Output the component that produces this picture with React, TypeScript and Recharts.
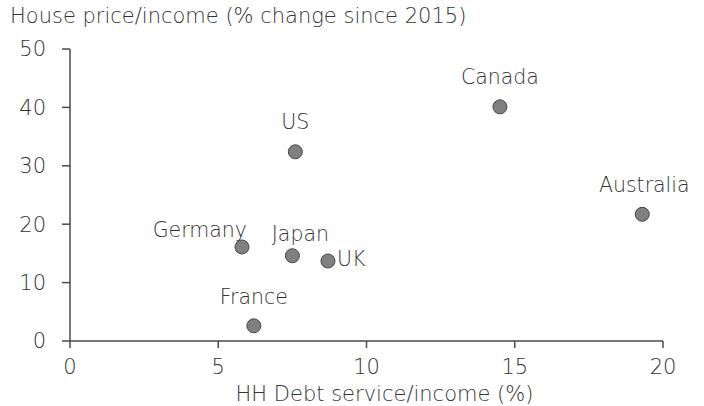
import { ScatterChart, Scatter, XAxis, YAxis } from "recharts";

const countries = ["Canada", "US", "Australia", "Germany", "Japan", "UK", "France"];
const debtService = [14.5, 7.6, 19.3, 5.8, 7.5, 8.7, 6.2];
const housePriceChange = [40.1, 32.4, 21.7, 16.1, 14.6, 13.7, 2.6];
const xTicks = [0, 5, 10, 15, 20];
const yTicks = [0, 10, 20, 30, 40, 50];

const points = countries.map((name, i) => ({
  name,
  x: debtService[i],
  y: housePriceChange[i],
}));

const FONT = "'DejaVu Sans', sans-serif";
const TEXT = "#333333";
const AXIS = "#4a4a4a";
const WEIGHT = 200;
const SIZE = 21;

// where each country's label sits relative to its dot
const labelPlace: Record<string, { dx: number; dy: number; anchor: "start" | "middle" | "end" }> = {
  Canada: { dx: 0, dy: -30, anchor: "middle" },
  US: { dx: 0, dy: -30, anchor: "middle" },
  Australia: { dx: 2, dy: -29, anchor: "middle" },
  Germany: { dx: 5, dy: -17, anchor: "end" },
  Japan: { dx: 8, dy: -22, anchor: "middle" },
  UK: { dx: 9, dy: -2, anchor: "start" },
  France: { dx: 0, dy: -29, anchor: "middle" },
};

function Dot(props: any) {
  const { cx, cy, payload } = props;
  const p = labelPlace[payload.name] ?? { dx: 0, dy: -30, anchor: "middle" };
  return (
    <g>
      <circle cx={cx} cy={cy} r={7} fill="#808080" stroke="#454545" strokeWidth={1} />
      <text
        x={cx + p.dx}
        y={cy + p.dy}
        textAnchor={p.anchor}
        dominantBaseline="central"
        fontSize={SIZE - 0.5}
        fontWeight={WEIGHT}
        fontFamily={FONT}
        fill={TEXT}
      >
        {payload.name}
      </text>
    </g>
  );
}

const tickStyle = { fill: TEXT, fontSize: SIZE, fontFamily: FONT, fontWeight: WEIGHT };

export default function App() {
  return (
    <div style={{ position: "absolute", left: 0, top: 0, width: 704, height: 406, background: "#fff" }}>
      <div
        style={{
          position: "absolute",
          left: 10,
          top: 4,
          fontFamily: FONT,
          fontSize: SIZE,
          fontWeight: WEIGHT,
          color: TEXT,
          whiteSpace: "nowrap",
        }}
      >
        House price/income (% change since 2015)
      </div>
      <ScatterChart width={704} height={406} margin={{ top: 49, right: 41, left: 0, bottom: 0 }}>
        <XAxis
          type="number"
          dataKey="x"
          domain={[0, 20]}
          ticks={xTicks}
          interval={0}
          height={65}
          stroke={AXIS}
          strokeWidth={1.5}
          tickSize={7}
          tickMargin={11}
          tick={tickStyle}
          label={{
            value: "HH Debt service/income (%)",
            position: "insideBottom",
            offset: 5,
            dx: 18,
            ...tickStyle,
          }}
        />
        <YAxis
          type="number"
          dataKey="y"
          domain={[0, 50]}
          ticks={yTicks}
          interval={0}
          width={70}
          stroke={AXIS}
          strokeWidth={1.5}
          tickSize={8}
          tickMargin={16}
          tick={tickStyle}
        />
        <Scatter data={points} shape={<Dot />} isAnimationActive={false} />
      </ScatterChart>
    </div>
  );
}
